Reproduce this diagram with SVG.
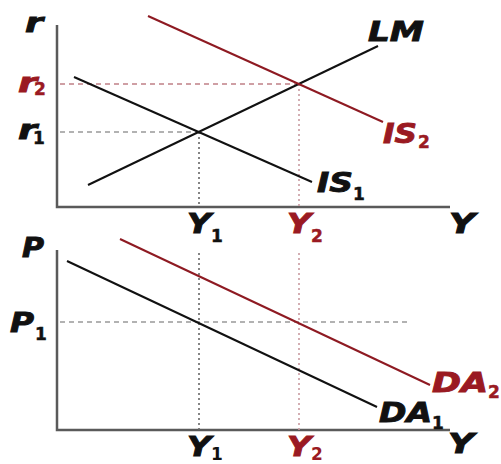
<svg xmlns="http://www.w3.org/2000/svg" width="501" height="464" viewBox="0 0 501 464">
<style>
.axis{stroke:#5a5a5a;stroke-width:2.5;fill:none}
.blk{stroke:#111;stroke-width:2;fill:none}
.red{stroke:#8e1a22;stroke-width:2;fill:none}
.dash{stroke:#666;stroke-width:1.2;stroke-dasharray:5,4;fill:none}
.dashr{stroke:#a0404a;stroke-width:1.2;stroke-dasharray:5,4;fill:none}
.dot{stroke:#666;stroke-width:1.6;stroke-dasharray:2,3;fill:none}
.dotr{stroke:#c99aa0;stroke-width:1.6;stroke-dasharray:2,3;fill:none}
text{font-family:"DejaVu Sans",Verdana,sans-serif;font-weight:bold}
.m{font-size:26px;font-style:italic;stroke-width:0.9}
.s{font-size:17px;stroke-width:0.5}
.k{fill:#111;stroke:#111}
.r{fill:#9a1a22;stroke:#9a1a22}
</style>
<g id="axes">
<path class="axis" d="M57,25 V207 H450"/>
<path class="axis" d="M57,250 V430 H450"/>
</g>
<g id="guides">
<path class="dash" d="M60,132 H199"/>
<path class="dashr" d="M60,84 H299"/>
<path class="dot" d="M199,132 V207"/>
<path class="dotr" d="M299,84 V207"/>
<path class="dash" d="M60,322 H410"/>
<path class="dot" d="M199,253 V430"/>
<path class="dotr" d="M299,253 V430"/>
</g>
<g id="connectors">
<line id="LM" class="blk" x1="88" y1="185" x2="378" y2="46"/>
<line id="IS1" class="blk" x1="74" y1="77" x2="312" y2="182"/>
<line id="IS2" class="red" x1="148" y1="16" x2="383" y2="122"/>
<line id="DA1" class="blk" x1="67" y1="261" x2="377" y2="407"/>
<line id="DA2" class="red" x1="120" y1="239" x2="430" y2="385"/>
</g>
<g id="labels-top">
<text class="m k" x="25" y="32" textLength="18" lengthAdjust="spacingAndGlyphs">r</text>
<g id="r2"><text class="m r" x="18" y="92" textLength="19" lengthAdjust="spacingAndGlyphs">r</text><text class="s r" x="34" y="95">2</text></g>
<g id="r1"><text class="m k" x="18" y="139" textLength="19" lengthAdjust="spacingAndGlyphs">r</text><text class="s k" x="33" y="144">1</text></g>
<g id="LMlab"><text class="m k" x="368" y="41" textLength="56" lengthAdjust="spacingAndGlyphs">LM</text></g>
<g id="IS2lab"><text class="m r" x="383" y="143" textLength="34" lengthAdjust="spacingAndGlyphs">IS</text><text class="s r" x="418" y="148">2</text></g>
<g id="IS1lab"><text class="m k" x="317" y="192" textLength="36" lengthAdjust="spacingAndGlyphs">IS</text><text class="s k" x="353" y="200">1</text></g>
<g id="Y1top"><text class="m k" x="187" y="233" textLength="24" lengthAdjust="spacingAndGlyphs">Y</text><text class="s k" x="211" y="242">1</text></g>
<g id="Y2top"><text class="m r" x="287" y="233" textLength="24" lengthAdjust="spacingAndGlyphs">Y</text><text class="s r" x="311" y="242">2</text></g>
<text class="m k" x="449" y="233" textLength="26" lengthAdjust="spacingAndGlyphs">Y</text>
</g>
<g id="labels-bottom">
<text class="m k" x="22" y="257" textLength="22" lengthAdjust="spacingAndGlyphs">P</text>
<g id="P1"><text class="m k" x="10" y="332" textLength="24" lengthAdjust="spacingAndGlyphs">P</text><text class="s k" x="35" y="340">1</text></g>
<g id="DA2lab"><text class="m r" x="432" y="392" textLength="56" lengthAdjust="spacingAndGlyphs">DA</text><text class="s r" x="488" y="398">2</text></g>
<g id="DA1lab"><text class="m k" x="379" y="422" textLength="53" lengthAdjust="spacingAndGlyphs">DA</text><text class="s k" x="432" y="429">1</text></g>
<text class="m k" x="448" y="453" textLength="26" lengthAdjust="spacingAndGlyphs">Y</text>
<g id="Y1bot"><text class="m k" x="187" y="456" textLength="24" lengthAdjust="spacingAndGlyphs">Y</text><text class="s" x="211" y="460" style="fill:#111">1</text></g>
<g id="Y2bot"><text class="m r" x="287" y="456" textLength="24" lengthAdjust="spacingAndGlyphs">Y</text><text class="s" x="311" y="460" style="fill:#9a1a22">2</text></g>
</g>
</svg>
